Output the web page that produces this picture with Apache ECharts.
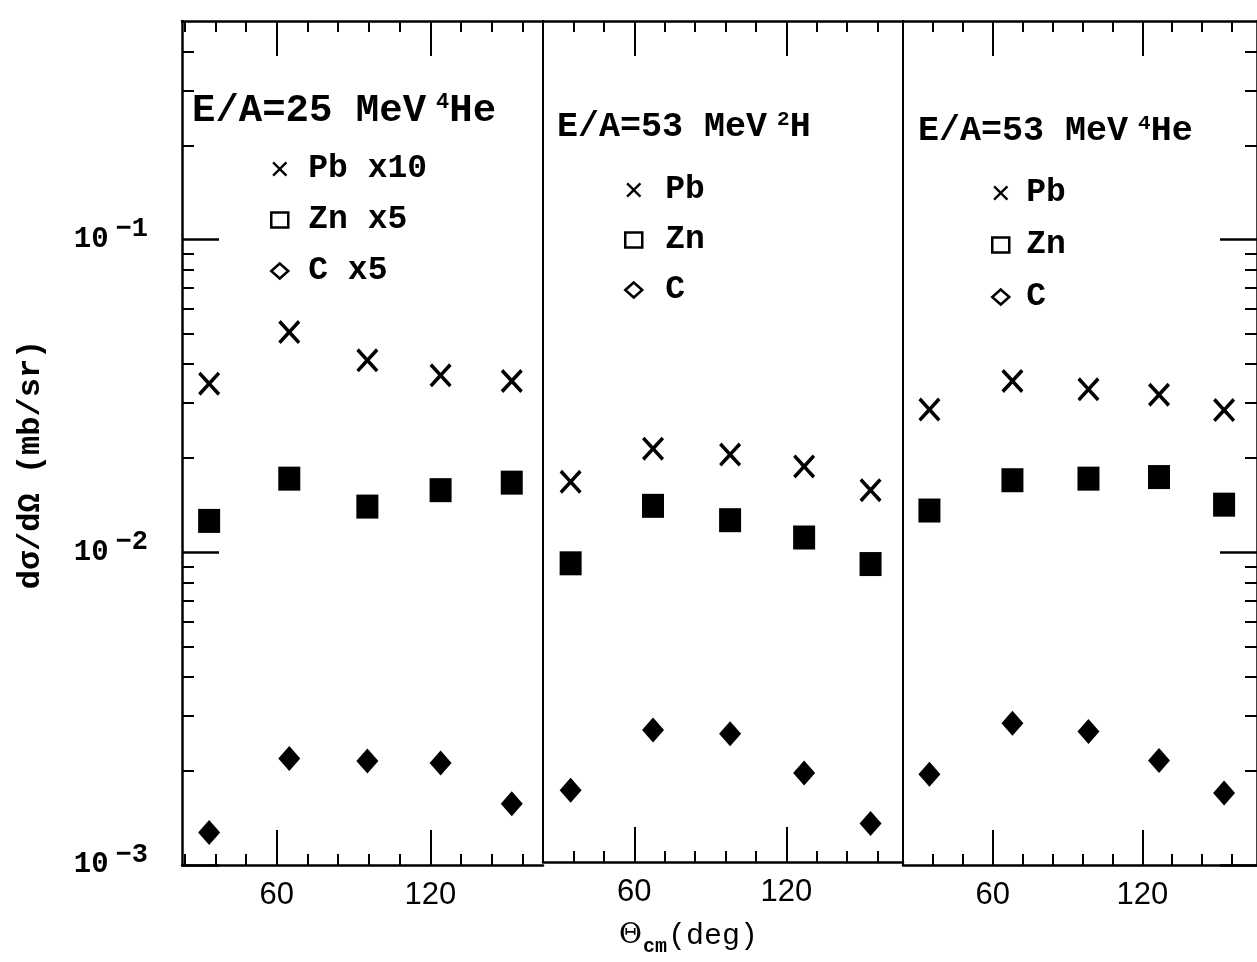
<!DOCTYPE html>
<html>
<head>
<meta charset="utf-8">
<script src="https://cdn.jsdelivr.net/npm/echarts@6/dist/echarts.min.js"></script>
<style>
  html, body { margin: 0; padding: 0; background: #ffffff; }
  #chart { width: 1257px; height: 962px; }
</style>
</head>
<body>
<div id="chart"></div>
<script>
// Scattering angles (deg, c.m.) for each beam panel
const angles25He4 = [33.6, 64.9, 95.4, 124.0, 151.8];
const angles53H2  = [34.9, 67.4, 97.8, 127.0, 153.2];
const angles53He4 = [34.6, 67.9, 98.4, 126.7, 152.8];

// dσ/dΩ (mb/sr), E/A = 25 MeV 4He (Pb scaled x10, Zn and C x5)
const pb25He4 = [0.0346, 0.0506, 0.0411, 0.0368, 0.0353];
const zn25He4 = [0.0126, 0.0172, 0.0140, 0.0158, 0.0167];
const c25He4  = [0.00127, 0.00219, 0.00215, 0.00212, 0.00157];

// dσ/dΩ (mb/sr), E/A = 53 MeV 2H
const pb53H2 = [0.0166, 0.0212, 0.0203, 0.0186, 0.0156];
const zn53H2 = [0.00909, 0.0139, 0.0125, 0.0110, 0.00904];
const c53H2  = [0.00170, 0.00265, 0.00258, 0.00193, 0.00133];

// dσ/dΩ (mb/sr), E/A = 53 MeV 4He
const pb53He4 = [0.0286, 0.0353, 0.0332, 0.0319, 0.0285];
const zn53He4 = [0.0136, 0.0170, 0.0172, 0.0174, 0.0142];
const c53He4  = [0.00195, 0.00284, 0.00267, 0.00216, 0.00170];

// Axis ticks
const xMajorTicks = [60, 120];
const xMinorTicks = [24, 36, 48, 72, 84, 96, 108, 132, 144, 156];
const yMajorTicks = [0.001, 0.01, 0.1];
const yMinorTicks = [0.002, 0.003, 0.004, 0.005, 0.006, 0.007, 0.008, 0.009,
                     0.02, 0.03, 0.04, 0.05, 0.06, 0.07, 0.08, 0.09,
                     0.2, 0.3, 0.4];

// Legend labels per panel
const legend25He4 = ['Pb x10', 'Zn x5', 'C x5'];
const legend53H2  = ['Pb', 'Zn', 'C'];
const legend53He4 = ['Pb', 'Zn', 'C'];

const BLACK = '#000000';
const MONO = 'Liberation Mono';
const SANS = 'Liberation Sans';
const CROSS = 'path://M0,11L11,0L50,39L89,0L100,11L61,50L100,89L89,100L50,61L11,100L0,89L39,50Z';

const GRID_TOP = 21, GRID_H = 844;
const grids = [
  { left: 182, top: GRID_TOP, width: 361, height: GRID_H },
  { left: 543, top: GRID_TOP, width: 360, height: GRID_H },
  { left: 903, top: GRID_TOP, width: 360, height: GRID_H }
];
const xRanges = [[23, 164], [24, 166], [24, 166]];

function xAxesFor(g) {
  const base = {
    type: 'value', gridIndex: g, min: xRanges[g][0], max: xRanges[g][1],
    splitLine: { show: false }
  };
  const frameLine = { show: true, onZero: false, lineStyle: { color: BLACK, width: 2.5 } };
  const major = { show: true, inside: true, length: 35, customValues: xMajorTicks, lineStyle: { color: BLACK, width: 2 } };
  const minor = { show: true, inside: true, length: 11, customValues: xMinorTicks, lineStyle: { color: BLACK, width: 2 } };
  const bottomMajor = Object.assign({}, base, {
    position: 'bottom', axisLine: frameLine, axisTick: major,
    axisLabel: { show: true, customValues: xMajorTicks, margin: 15, color: BLACK, fontFamily: SANS, fontSize: 31 }
  });
  if (g === 1) {
    Object.assign(bottomMajor, {
      name: '{t|Θ}{sub|cm}{p|(deg)}',
      nameLocation: 'middle',
      nameGap: 57,
      nameTextStyle: {
        padding: [0, 69, 0, 0],
        rich: {
          t:   { fontFamily: 'DejaVu Serif', fontSize: 28, color: BLACK, lineHeight: 34 },
          sub: { fontFamily: MONO, fontWeight: 'bold', fontSize: 20, color: BLACK, lineHeight: 20, padding: [22, 1, 0, 1] },
          p:   { fontFamily: MONO, fontSize: 30, color: BLACK, lineHeight: 34 }
        }
      }
    });
  }
  return [
    bottomMajor,
    Object.assign({}, base, { position: 'bottom', axisLine: { show: false }, axisTick: minor, axisLabel: { show: false } }),
    Object.assign({}, base, { position: 'top', axisLine: frameLine, axisTick: major, axisLabel: { show: false } }),
    Object.assign({}, base, { position: 'top', axisLine: { show: false }, axisTick: minor, axisLabel: { show: false } })
  ];
}

const yBase = { type: 'log', logBase: 10, min: 0.001, max: 0.5, splitLine: { show: false } };
const yMajorTick = { show: true, inside: true, length: 37, customValues: yMajorTicks, lineStyle: { color: BLACK, width: 2.5 } };
const yMinorTick = { show: true, inside: true, length: 12, customValues: yMinorTicks, lineStyle: { color: BLACK, width: 2 } };

const yAxes = [
  Object.assign({}, yBase, {
    gridIndex: 0, position: 'left',
    axisLine: { show: true, onZero: false, lineStyle: { color: BLACK, width: 2.5 } },
    axisTick: yMajorTick,
    axisLabel: {
      show: true, customValues: yMajorTicks, margin: 34,
      fontFamily: MONO, fontWeight: 'bold', fontSize: 29, color: BLACK,
      formatter: function (v) {
        const e = Math.round(Math.log10(v));
        return '{b|10}{s|\u2212' + (-e) + '}';
      },
      rich: {
        b: { fontFamily: MONO, fontWeight: 'bold', fontSize: 29, color: BLACK, lineHeight: 29 },
        s: { fontFamily: MONO, fontWeight: 'bold', fontSize: 27, color: BLACK, lineHeight: 27, padding: [0, 0, 20, 7] }
      }
    },
    name: 'd\u03c3/d\u03a9 (mb/sr)',
    nameLocation: 'middle', nameRotate: 90, nameGap: 135,
    nameTextStyle: { fontFamily: MONO, fontWeight: 'bold', fontSize: 32, color: BLACK, padding: [0, 43, 0, 0] }
  }),
  Object.assign({}, yBase, { gridIndex: 0, position: 'left', axisLine: { show: false }, axisTick: yMinorTick, axisLabel: { show: false } }),
  Object.assign({}, yBase, { gridIndex: 1, position: 'left', axisLine: { show: true, onZero: false, lineStyle: { color: BLACK, width: 2 } }, axisTick: { show: false }, axisLabel: { show: false } }),
  Object.assign({}, yBase, { gridIndex: 2, position: 'left', axisLine: { show: true, onZero: false, lineStyle: { color: BLACK, width: 2 } }, axisTick: { show: false }, axisLabel: { show: false } }),
  Object.assign({}, yBase, { gridIndex: 2, position: 'right', axisLine: { show: true, onZero: false, lineStyle: { color: BLACK, width: 2.5 } }, axisTick: yMajorTick, axisLabel: { show: false } }),
  Object.assign({}, yBase, { gridIndex: 2, position: 'right', axisLine: { show: false }, axisTick: yMinorTick, axisLabel: { show: false } })
];
const yIndexOfGrid = [0, 2, 3];

function pts(angles, vals) { return angles.map(function (a, i) { return [a, vals[i]]; }); }

function mark(name, g, angles, vals, symbol, size) {
  return {
    type: 'scatter', name: name, xAxisIndex: g * 4, yAxisIndex: yIndexOfGrid[g],
    data: pts(angles, vals), symbol: symbol, symbolSize: size,
    itemStyle: { color: BLACK, opacity: 1 }, silent: true
  };
}

const panels = [
  { angles: angles25He4, pb: pb25He4, zn: zn25He4, c: c25He4, names: legend25He4 },
  { angles: angles53H2,  pb: pb53H2,  zn: zn53H2,  c: c53H2,  names: legend53H2 },
  { angles: angles53He4, pb: pb53He4, zn: zn53He4, c: c53He4, names: legend53He4 }
];

const series = [];
panels.forEach(function (p, g) {
  series.push(mark(p.names[0], g, p.angles, p.pb, CROSS, [22, 24]));
  series.push(mark(p.names[1], g, p.angles, p.zn, 'rect', [22, 24]));
  series.push(mark(p.names[2], g, p.angles, p.c, 'diamond', [22, 25]));
});

function legendFor(names, left, top, gap, textPad) {
  const hollow = { color: '#ffffff', borderColor: BLACK, borderWidth: 2.5, opacity: 1 };
  return {
    left: left, top: top, orient: 'vertical', padding: 0, itemGap: gap,
    itemWidth: 17, itemHeight: 15, selectedMode: false,
    textStyle: { fontFamily: MONO, fontWeight: 'bold', fontSize: 33, color: BLACK, lineHeight: 34, padding: [0, 0, 0, textPad] },
    data: [
      { name: names[0], icon: CROSS, itemStyle: { color: BLACK, borderWidth: 0, opacity: 1 } },
      { name: names[1], icon: 'rect', itemStyle: hollow },
      { name: names[2], icon: 'diamond', itemStyle: hollow }
    ]
  };
}

function panelTitle(left, top, size, supSize, main, sup, tail) {
  return {
    left: left, top: top, padding: 0,
    text: '{m|' + main + '}{s|' + sup + '}{m|' + tail + '}',
    textStyle: {
      rich: {
        m: { fontFamily: MONO, fontWeight: 'bold', fontSize: size, color: BLACK, lineHeight: size },
        s: { fontFamily: MONO, fontWeight: 'bold', fontSize: supSize, color: BLACK, lineHeight: supSize, padding: [0, 0, Math.round(size * 0.45), 10] }
      }
    }
  };
}

const chart = echarts.init(document.getElementById('chart'), null, { renderer: 'canvas' });
chart.setOption({
  animation: false,
  backgroundColor: '#ffffff',
  grid: grids,
  xAxis: [].concat(xAxesFor(0), xAxesFor(1), xAxesFor(2)),
  yAxis: yAxes,
  title: [
    panelTitle(192, 92, 39, 22, 'E/A=25 MeV', '4', 'He'),
    panelTitle(557, 110, 35, 21, 'E/A=53 MeV', '2', 'H'),
    panelTitle(918, 114, 35, 21, 'E/A=53 MeV', '4', 'He')
  ],
  legend: [
    legendFor(legend25He4, 270, 152, 17, 15),
    legendFor(legend53H2, 624, 173, 16, 18),
    legendFor(legend53He4, 991, 176, 18, 12)
  ],
  series: series
});
</script>
</body>
</html>
